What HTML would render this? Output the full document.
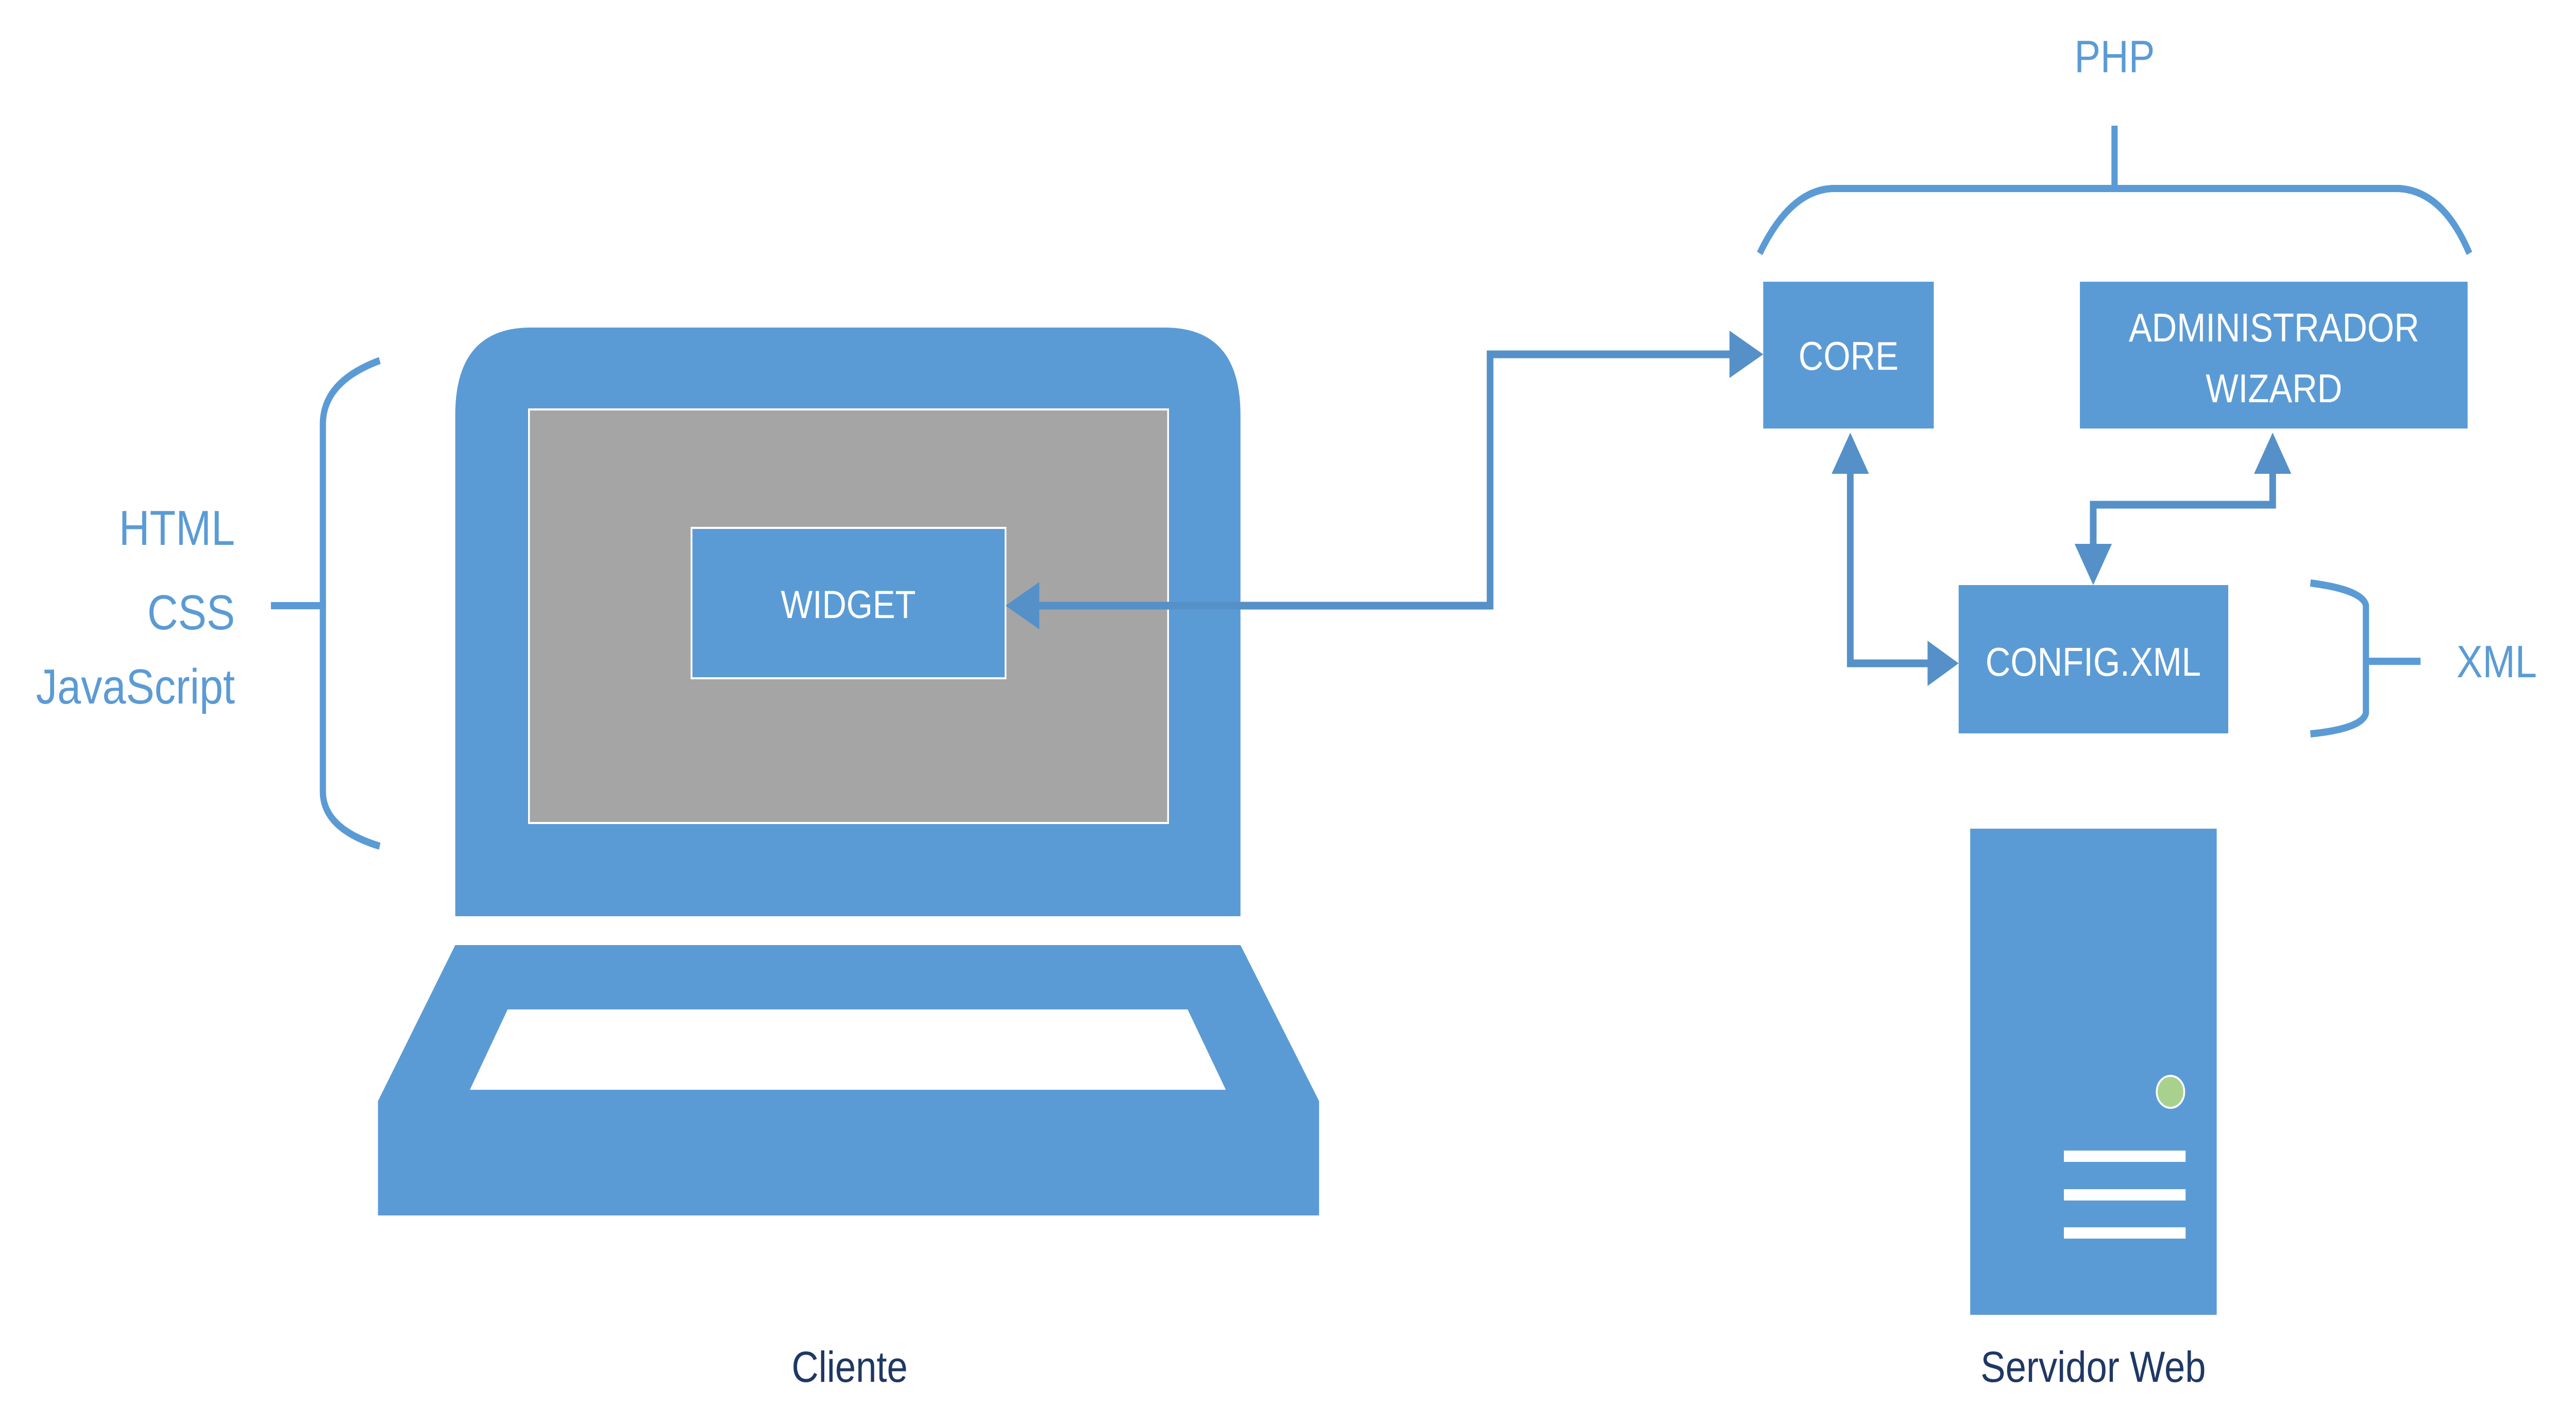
<!DOCTYPE html>
<html><head><meta charset="utf-8"><style>html,body{margin:0;padding:0;background:#fff;width:100%;height:100%;overflow:hidden}svg{display:block;width:100vw;height:100vh}</style></head>
<body>
<svg viewBox="0 0 5800 2763" preserveAspectRatio="none" xmlns="http://www.w3.org/2000/svg" font-family="Liberation Sans, sans-serif">
<!-- Laptop -->
<path d="M1025,1779 L1025,806 Q1025,636 1195,636 L2623,636 Q2793,636 2793,806 L2793,1779 Z" fill="#5b9bd5"/>
<rect x="1191" y="795" width="1439" height="803" fill="#a5a5a5" stroke="#fff" stroke-width="4"/>
<rect x="1557" y="1025" width="707" height="292" fill="#5b9bd5" stroke="#fff" stroke-width="4"/>
<text x="1910" y="1200" font-size="76" fill="#fff" text-anchor="middle">WIDGET</text>
<path d="M1025,1835 L2793,1835 L2970,2138 L2970,2360 L851,2360 L851,2138 Z" fill="#5b9bd5"/>
<path d="M1143,1960 L2674,1960 L2760,2116 L1058,2116 Z" fill="#fff"/>
<!-- left brace -->
<g fill="none" stroke="#5b9bd5" stroke-width="14">
<path d="M855,700 Q730,740 727,820 L727,1540 Q730,1610 855,1643"/>
<path d="M610,1176 L727,1176"/>
</g>
<g font-size="96" fill="#5b9bd5" text-anchor="end">
<text x="529" y="1058">HTML</text>
<text x="529" y="1222">CSS</text>
<text x="529" y="1366">JavaScript</text>
</g>
<!-- connector widget-core -->
<g fill="none" stroke="#5591c8" stroke-width="15">
<path d="M2330,1176 L3355,1176 L3355,688 L3905,688"/>
</g>
<path d="M2264,1176 L2340,1130 L2340,1222 Z" fill="#5591c8"/>
<path d="M3970,688 L3894,642 L3894,734 Z" fill="#5591c8"/>
<!-- boxes -->
<rect x="3970" y="547" width="384" height="285" fill="#5b9bd5"/>
<text x="4162" y="718" font-size="78" fill="#fff" text-anchor="middle">CORE</text>
<rect x="4683" y="547" width="873" height="285" fill="#5b9bd5"/>
<text x="5120" y="663" font-size="78" fill="#fff" text-anchor="middle">ADMINISTRADOR</text>
<text x="5120" y="781" font-size="78" fill="#fff" text-anchor="middle">WIZARD</text>
<rect x="4410" y="1136" width="607" height="288" fill="#5b9bd5"/>
<text x="4713" y="1312" font-size="78" fill="#fff" text-anchor="middle">CONFIG.XML</text>
<!-- PHP brace -->
<g fill="none" stroke="#5b9bd5" stroke-width="14">
<path d="M3962,492 Q4030,370 4125,366 L5400,366 Q5500,370 5560,492"/>
<path d="M4761,244 L4761,366"/>
</g>
<text x="4761" y="140" font-size="88" fill="#5b9bd5" text-anchor="middle">PHP</text>
<!-- core-config -->
<g fill="none" stroke="#5591c8" stroke-width="15">
<path d="M4166,910 L4166,1288 L4345,1288"/>
<path d="M5117,910 L5117,980 L4713,980 L4713,1065"/>
</g>
<path d="M4166,840 L4124,920 L4208,920 Z" fill="#5591c8"/>
<path d="M4410,1288 L4340,1244 L4340,1332 Z" fill="#5591c8"/>
<path d="M5117,840 L5075,920 L5159,920 Z" fill="#5591c8"/>
<path d="M4713,1136 L4671,1056 L4755,1056 Z" fill="#5591c8"/>
<!-- XML brace -->
<g fill="none" stroke="#5b9bd5" stroke-width="14">
<path d="M5202,1132 Q5318,1145 5327,1175 L5327,1385 Q5318,1415 5202,1425"/>
<path d="M5327,1284 L5450,1284"/>
</g>
<text x="5531" y="1315" font-size="88" fill="#5b9bd5">XML</text>
<!-- server -->
<rect x="4436" y="1609" width="555" height="944" fill="#5b9bd5"/>
<circle cx="4887" cy="2120" r="31" fill="#a9d18e" stroke="#fff" stroke-width="4"/>
<rect x="4647" y="2234" width="274" height="22" fill="#fff"/>
<rect x="4647" y="2309" width="274" height="22" fill="#fff"/>
<rect x="4647" y="2383" width="274" height="22" fill="#fff"/>
<g font-size="84" fill="#1f3864" text-anchor="middle">
<text x="1913" y="2683">Cliente</text>
<text x="4713" y="2683">Servidor Web</text>
</g>
</svg>
</body></html>
